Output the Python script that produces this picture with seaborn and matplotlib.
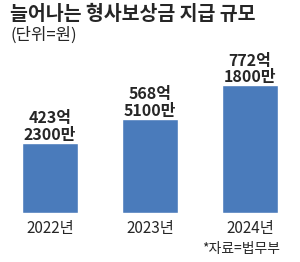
import matplotlib
matplotlib.use("Agg")
import matplotlib.pyplot as plt
import seaborn as sns
import pandas as pd

years = ["2022년", "2023년", "2024년"]
values = [423.23, 568.51, 772.18]  # 억 원
labels = ["423억\n2300만", "568억\n5100만", "772억\n1800만"]

sns.set_theme(style="white")
plt.rcParams['font.family'] = ['Noto Sans CJK KR', 'DejaVu Sans']

df = pd.DataFrame({"year": years, "value": values})

fig = plt.figure(figsize=(3.0, 2.62), dpi=100)
# axes: bottom at y=213px, top at y=40px
ax = fig.add_axes([0.0, (262 - 213) / 262, 1.0, (213 - 40) / 262])
sns.barplot(data=df, x="year", y="value", color="#4a7bbb", saturation=1,
            width=0.565, ax=ax)
ax.set_xlim(-0.5, 2.5)
ax.set_ylim(0, 173 / 0.1655)
for s in ax.spines.values():
    s.set_visible(False)
ax.set_xlabel("")
ax.set_ylabel("")
ax.set_yticks([])
ax.tick_params(axis='x', length=0, pad=5, labelsize=11)
for i, (v, lab) in enumerate(zip(values, labels)):
    ax.annotate(lab, (i, v), xytext=(0, 0), textcoords="offset points",
                ha="center", va="bottom", fontsize=11.5, fontweight="bold",
                linespacing=1.05)

fig.text(10 / 300, 1 - 14 / 262, "늘어나는 형사보상금 지급 규모", fontsize=14,
         fontweight="black", ha="left", va="center")
fig.text(10 / 300, 1 - 35 / 262, "(단위=원)", fontsize=12,
         ha="left", va="center")
fig.text(280 / 300, 1 - 249 / 262, "*자료=법무부", fontsize=10,
         ha="right", va="center")

fig.savefig("out.png", dpi=100)
